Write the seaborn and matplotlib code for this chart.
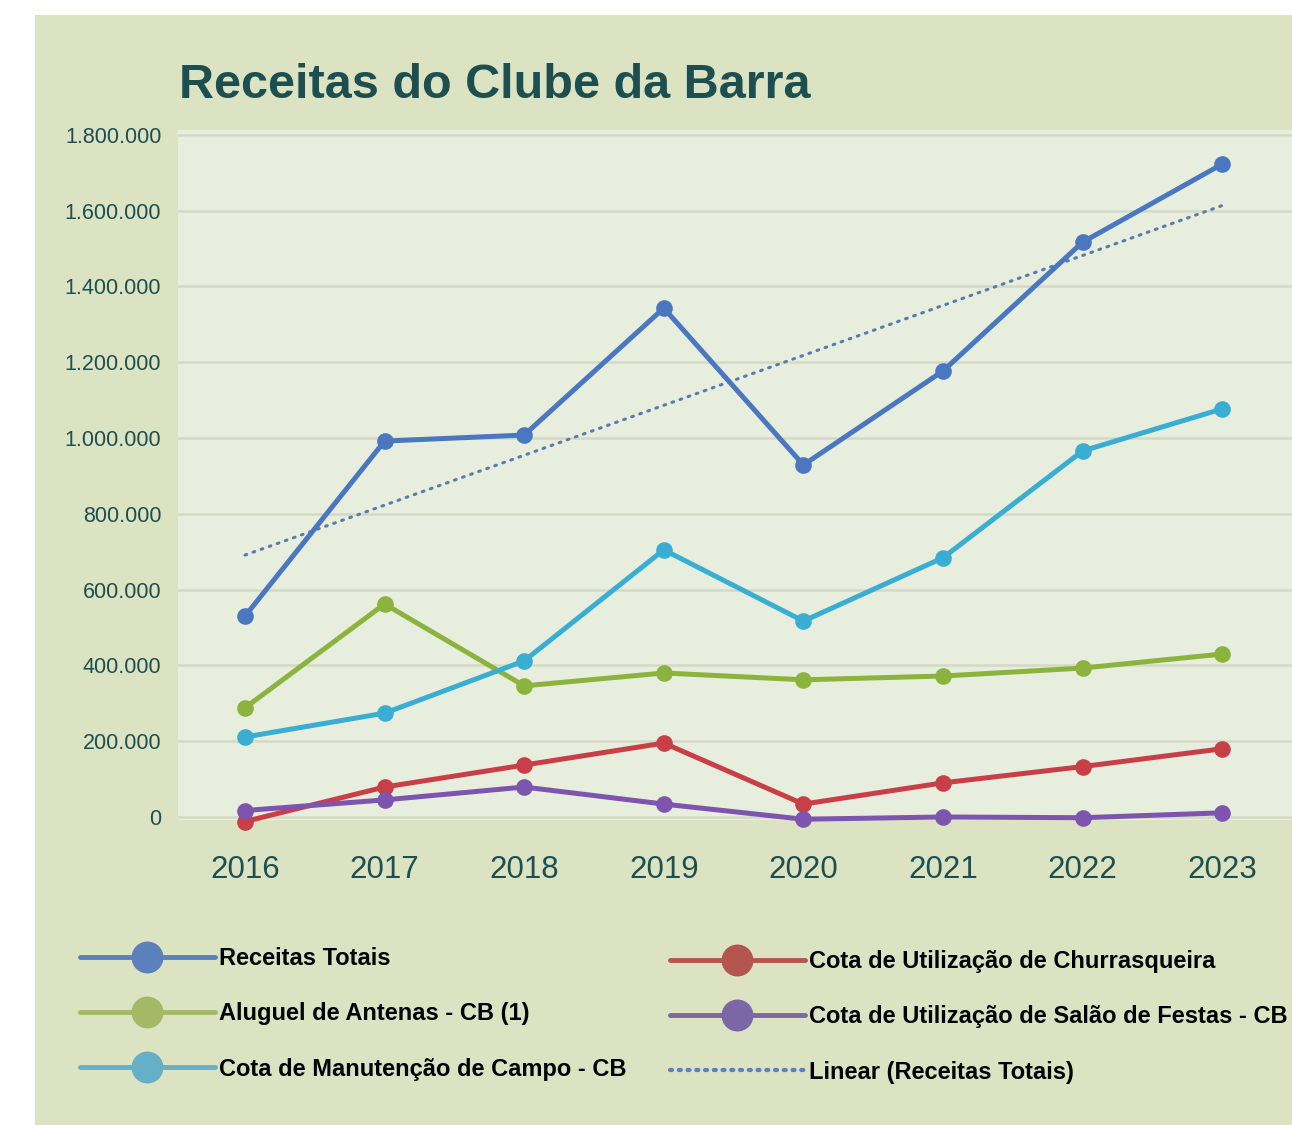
import numpy as np
import pandas as pd
import matplotlib
matplotlib.use("Agg")
import matplotlib.pyplot as plt
from matplotlib.lines import Line2D
from matplotlib.patches import Rectangle
import seaborn as sns

# ---------------- data ----------------
years = ["2016", "2017", "2018", "2019", "2020", "2021", "2022", "2023"]
receitas_totais = [530000, 992000, 1008000, 1343000, 929000, 1177000, 1517000, 1723000]
aluguel_antenas = [288000, 562000, 346000, 380000, 362000, 372000, 393000, 430000]
cota_manutencao = [211000, 274000, 412000, 705000, 517000, 684000, 966000, 1077000]
cota_churrasqueira = [-12000, 79000, 137000, 195000, 34000, 90000, 133000, 180000]
cota_salao = [17000, 45000, 79000, 34000, -6000, 0, -2000, 11000]

series_names = [
    "Receitas Totais",
    "Aluguel de Antenas - CB (1)",
    "Cota de Manutenção de Campo - CB",
    "Cota de Utilização de Churrasqueira",
    "Cota de Utilização de Salão de Festas - CB",
]
trend_label = "Linear (Receitas Totais)"
title = "Receitas do Clube da Barra"
y_ticks = [0, 200000, 400000, 600000, 800000, 1000000, 1200000, 1400000, 1600000, 1800000]
y_tick_labels = ["0", "200.000", "400.000", "600.000", "800.000", "1.000.000",
                 "1.200.000", "1.400.000", "1.600.000", "1.800.000"]

# ---------------- styles ----------------
line_colors = ["#4a77c0", "#8db33f", "#3aaed2", "#c83f48", "#7d55ae"]
legend_colors = ["#5b80bc", "#a3b966", "#66afc9", "#b45550", "#7b67a6"]
trend_color = "#5b7bb0"
legend_trend_color = "#5a80c2"
outer_bg = "#dbe3c3"
plot_bg = "#e8eedd"
grid_color = "#d3d9c4"
text_teal = "#1e4f50"

sns.set_theme(style="white")
plt.rcParams["font.family"] = ["Liberation Sans", "DejaVu Sans"]

W, H = 1292, 1125
fig = plt.figure(figsize=(W / 100, H / 100), dpi=100, facecolor="white")
fig.patches.append(Rectangle((35 / W, 0), 1 - 35 / W, 1 - 15 / H,
                             transform=fig.transFigure, facecolor=outer_bg,
                             edgecolor="none", zorder=-10))

ax = fig.add_axes([178 / W, 1 - 820 / H, 1 - 178 / W, (820 - 130) / H])
ax.set_facecolor(plot_bg)

x_idx = np.arange(len(years))
values = [receitas_totais, aluguel_antenas, cota_manutencao, cota_churrasqueira, cota_salao]
df = pd.DataFrame({
    "x": np.tile(x_idx, len(series_names)),
    "valor": np.concatenate(values),
    "serie": np.repeat(series_names, len(years)),
})

# trend line (linear fit of Receitas Totais)
coef = np.polyfit(x_idx, receitas_totais, 1)
trend = np.polyval(coef, x_idx)
sns.lineplot(x=x_idx, y=trend, ax=ax, color=trend_color, linewidth=2.2,
             linestyle=(0, (0.6, 2.2)), dash_capstyle="round", zorder=3)

sns.lineplot(data=df, x="x", y="valor", hue="serie", hue_order=series_names,
             palette=line_colors, marker="o", markersize=12, markeredgewidth=0,
             linewidth=3.6, legend=False, ax=ax, zorder=4, sort=False)
for ln in ax.lines:
    ln.set_clip_on(False)

ax.set_xlim(-0.48, 7.5)
ax.set_ylim(-8000, 1813000)
ax.set_yticks(y_ticks)
ax.set_yticklabels(y_tick_labels)
ax.set_xticks(x_idx)
ax.set_xticklabels(years)
ax.set_xlabel("")
ax.set_ylabel("")
ax.tick_params(axis="x", length=0, pad=25, labelsize=22.5, labelcolor=text_teal)
ax.tick_params(axis="y", length=0, pad=12, labelsize=15.5, labelcolor=text_teal)
for sp in ax.spines.values():
    sp.set_visible(False)
ax.yaxis.grid(True, color=grid_color, linewidth=1.8)
ax.xaxis.grid(False)
ax.set_axisbelow(True)

fig.text(179 / W, 1 - 86 / H, title, ha="left", va="center",
         fontsize=35, fontweight="bold", color=text_teal)

# ---------------- legend ----------------
def handle(c, dotted=False):
    if dotted:
        return Line2D([], [], color=c, linewidth=3, linestyle=(0, (0.5, 1.6)),
                      dash_capstyle="round")
    return Line2D([], [], color=c, linewidth=3.5, marker="o", markersize=23,
                  markeredgewidth=0)

left_handles = [handle(legend_colors[i]) for i in range(3)]
right_handles = [handle(legend_colors[3]), handle(legend_colors[4]),
                 handle(legend_trend_color, dotted=True)]

common = dict(frameon=False, borderpad=0, borderaxespad=0, handlelength=5.7,
              handletextpad=0.2, labelspacing=1.37,
              prop={"size": 17, "weight": "bold"}, labelcolor="black")
leg1 = fig.legend(left_handles, series_names[:3], loc="upper left",
                  bbox_to_anchor=(80 / W, 1 - 947 / H), **common)
leg2 = fig.legend(right_handles, series_names[3:] + [trend_label], loc="upper left",
                  bbox_to_anchor=(670 / W, 1 - 950 / H), **common)

fig.savefig("out.png", dpi=100, facecolor="white")
